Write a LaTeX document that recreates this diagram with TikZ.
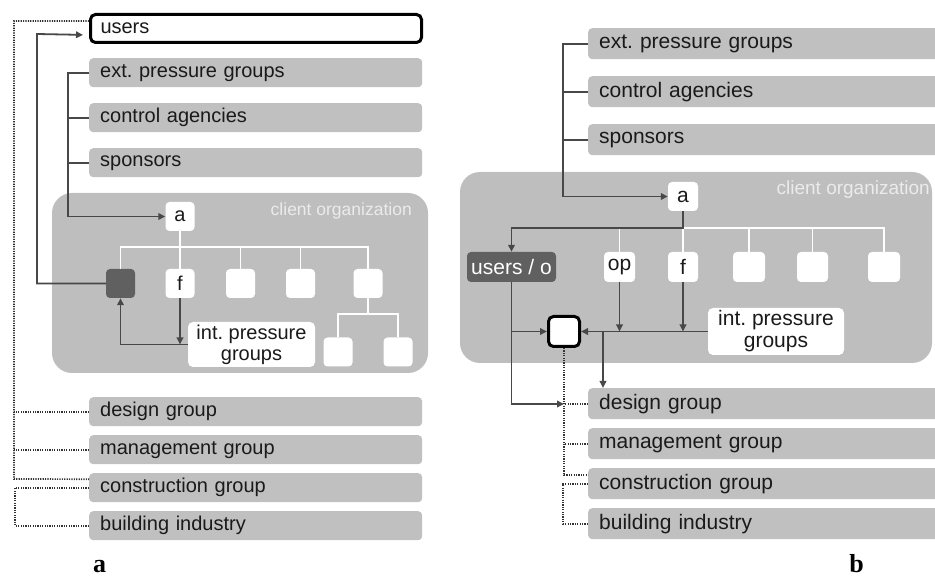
\documentclass[tikz,border=0pt]{standalone}
\usepackage{fontspec}
\setmainfont{Liberation Sans}
\newfontfamily\labelfont{Liberation Serif}
\usetikzlibrary{arrows.meta,calc}
\frenchspacing

\definecolor{boxgray}{HTML}{C0C0C0}
\definecolor{orggray}{HTML}{BEBEBE}
\definecolor{darkbox}{HTML}{606060}
\definecolor{linegray}{HTML}{484848}
\definecolor{txt}{HTML}{1A1A1A}

\begin{document}
\begin{tikzpicture}[x=1pt,y=-1pt,
  every node/.style={font=\fontsize{20}{23}\selectfont, text=txt},
  gbox/.style={fill=boxgray, rounded corners=4pt, anchor=north west, inner xsep=11pt, inner ysep=0pt, align=left},
  gboxL/.style={gbox, minimum height=29pt, text width=311pt},
  gboxR/.style={gbox, minimum height=31pt, text width=340pt, font=\fontsize{21}{24}\selectfont},
  userbox/.style={draw=black, line width=3pt, fill=white, rounded corners=5pt, anchor=north west, inner xsep=10pt, inner ysep=0pt, align=left, minimum height=28pt, text width=311pt},
  wbox/.style={fill=white, rounded corners=4pt, minimum width=29pt, minimum height=29pt, inner sep=0pt},
  dbox/.style={fill=darkbox, rounded corners=4pt, minimum width=29pt, minimum height=29pt, inner sep=0pt, text=white},
  cbox/.style={draw=black, line width=3pt, fill=white, rounded corners=5pt, minimum width=31pt, minimum height=30pt, inner sep=0pt},
  org/.style={fill=orggray, rounded corners=20pt},
  orgtext/.style={text=white!92!black, anchor=east, inner sep=0pt},
  conn/.style={draw=linegray, line width=1.8pt},
  arr/.style={conn, -{Triangle[length=7pt,width=6.5pt]}},
  tree/.style={draw=white, line width=1.8pt},
  dot/.style={draw=black!80, line width=1.7pt, dash pattern=on 1.2pt off 1.2pt},
  panellabel/.style={font=\labelfont\bfseries\fontsize{26}{30}\selectfont, text=black, anchor=base, inner sep=0pt}
]
\useasboundingbox (0,0) rectangle (935,577);
\clip (0,0) rectangle (935,577);

% ---------------- panel a ----------------
\fill[org] (52,193) rectangle (428,373);
\node[orgtext, font=\fontsize{17.5}{20}\selectfont] (orgL) at (412,211) {client organization};

\node[userbox] (usersL) at (89,13) {users};
\node[gboxL] (extL)   at (89,58)  {ext. pressure groups};
\node[gboxL] (ctrlL)  at (89,103) {control agencies};
\node[gboxL] (sponL)  at (89,148) {sponsors};
\node[gboxL] (desL)   at (89,397) {design group};
\node[gboxL] (manL)   at (89,435) {management group};
\node[gboxL] (conL)   at (89,473) {construction group};
\node[gboxL] (bldL)   at (89,511) {building industry};

\node[wbox] (aL)  at (180,216.5) {a};
\node[dbox] (dL)  at (120.5,283.5) {};
\node[wbox] (fL)  at (180,283.5) {f};
\node[wbox] (b3L) at (240.5,283.5) {};
\node[wbox] (b4L) at (300.5,283.5) {};
\node[wbox] (b5L) at (368,283.5) {};
\node[wbox] (s1L) at (338,352) {};
\node[wbox] (s2L) at (398,352) {};
\node[fill=white, rounded corners=5pt, minimum width=127pt, minimum height=45pt, inner sep=0pt, align=center,
      font=\fontsize{20}{21}\selectfont] (ipL) at (251.5,344.5) {int. pressure\\groups};

% organisation tree
\coordinate (tL) at (180,247);
\draw[tree] (aL.south) -- (fL.north);
\draw[tree] (dL.north) |- (tL) -| (b5L.north);
\draw[tree] (b3L.north) -- (b3L.north |- tL);
\draw[tree] (b4L.north) -- (b4L.north |- tL);
\coordinate (t2L) at (368,314);
\draw[tree] (b5L.south) -- (t2L);
\draw[tree] (s1L.north) |- (t2L) -| (s2L.north);

% external groups feed the top of the organisation
\draw[arr] (extL.west) -- ++(-21,0) |- (aL.west);
\draw[conn] (ctrlL.west) -- ++(-21,0);
\draw[conn] (sponL.west) -- ++(-21,0);

% users link
\draw[arr, shorten >=6pt] (dL.west) -| (37,34) -- ([yshift=-6.5pt]usersL.west);

% internal pressure
\draw[arr] (fL.south) -- (fL.south |- ipL.west);
\draw[arr] (ipL.west) -| (dL.south);

% dotted links to the project groups
\draw[dot] ([yshift=7.5pt]usersL.west) -| (14,479) -- ([yshift=8.5pt]conL.west);
\draw[dot] (desL.west) -- ++(-75,0);
\draw[dot] (manL.west) -- ++(-75,0);
\draw[dot] (conL.west) -- ++(-74,0) |- (bldL.west);

\node[panellabel] (labA) at (99.5,572) {a};

% ---------------- panel b ----------------
\fill[org] (460,172) rectangle (932,363);
\node[orgtext, font=\fontsize{19}{22}\selectfont] (orgR) at (930,190) {client organization};

\node[gboxR] (extR)  at (588,28)  {ext. pressure groups};
\node[gboxR] (ctrlR) at (588,76)  {control agencies};
\node[gboxR] (sponR) at (588,124) {sponsors};
\node[gboxR] (desR)  at (588,388) {design group};
\node[gboxR] (manR)  at (588,428) {management group};
\node[gboxR] (conR)  at (588,468) {construction group};
\node[gboxR] (bldR)  at (588,508) {building industry};

\begin{scope}[every node/.append style={font=\fontsize{21}{24}\selectfont}]
\node[wbox, minimum width=30pt] (aR) at (683,196.5) {a};
\node[dbox, minimum width=89pt, minimum height=30pt] (uo) at (511.5,267) {users / o};
\node[wbox, minimum width=31pt, minimum height=30pt] (op) at (619.5,267) {op};
\node[wbox, minimum width=30pt, minimum height=30pt] (fR) at (683,267) {f};
\node[wbox, minimum width=32pt, minimum height=30pt] (b4R) at (749,267) {};
\node[wbox, minimum width=31pt, minimum height=30pt] (b5R) at (812.5,267) {};
\node[wbox, minimum width=32pt, minimum height=30pt] (b6R) at (884,267) {};
\node[fill=white, rounded corners=5pt, minimum width=136pt, minimum height=47pt, inner sep=0pt, align=center,
      font=\fontsize{21}{22}\selectfont] (ipR) at (776,331.5) {int. pressure\\groups};
\end{scope}
\node[cbox] (cb) at (564,331.5) {};

% organisation tree
\coordinate (tR) at (683,228);
\draw[tree] (fR.north) |- (tR) -| (b6R.north);
\draw[tree] (op.north) -- (op.north |- tR);
\draw[tree] (b4R.north) -- (b4R.north |- tR);
\draw[tree] (b5R.north) -- (b5R.north |- tR);

% external groups feed the top of the organisation
\draw[arr] (extR.west) -- ++(-25,0) |- (aR.west);
\draw[conn] (ctrlR.west) -- ++(-25,0);
\draw[conn] (sponR.west) -- ++(-25,0);

% top of the organisation to users / owner
\draw[arr] (aR.south) -- (tR) -| (uo.north);

% internal pressure into the central box
\draw[arr] (ipR.west) -- (cb.east);
\draw[arr] (op.south) -- (op.south |- cb.east);
\draw[arr] (fR.south) -- (fR.south |- cb.east);
\coordinate (jR) at (603,331.5);
\draw[arr] (jR) -- (jR |- desR.north);

% users / owner line
\coordinate (kR) at (uo.south |- cb.west);
\draw[conn] (uo.south) -- (kR);
\draw[arr] (kR) -- (cb.west);
\coordinate (dv) at (564,404);
\draw[arr] (kR) |- (dv);

% dotted links to the project groups
\draw[dot] (cb.south) |- ([yshift=8.5pt]conR.west);
\draw[dot] (desR.west) -- (desR.west -| cb.south);
\draw[dot] (manR.west) -- (manR.west -| cb.south);
\draw[dot] (conR.west) -- ++(-25,0) |- (bldR.west);

\node[panellabel] (labB) at (856.5,572) {b};
\end{tikzpicture}
\end{document}
